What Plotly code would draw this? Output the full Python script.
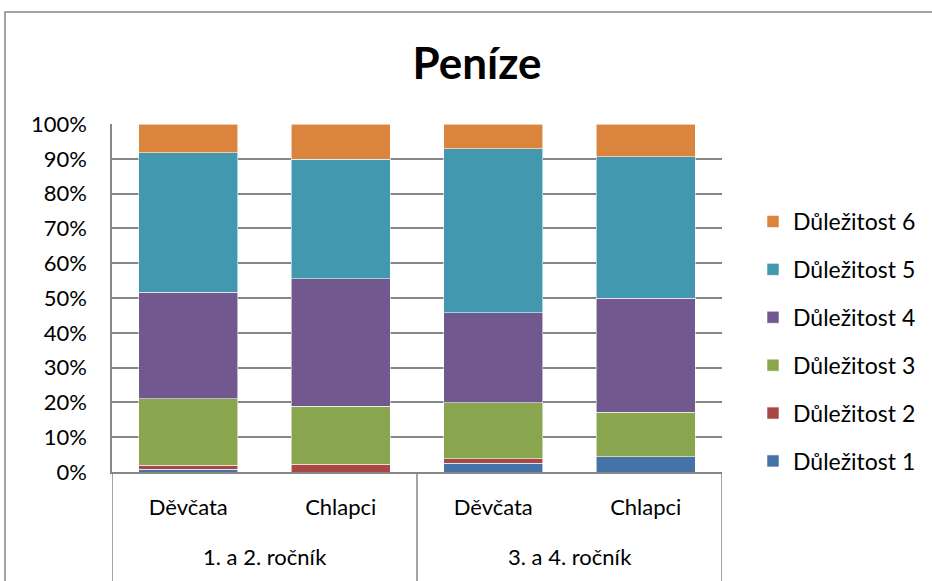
import plotly.graph_objects as go

groups = ["1. a 2. ročník", "3. a 4. ročník"]
categories = ["Děvčata", "Chlapci", "Děvčata", "Chlapci"]
series_names = ["Důležitost 1", "Důležitost 2", "Důležitost 3",
                "Důležitost 4", "Důležitost 5", "Důležitost 6"]
d1 = [0.8, 0.0, 2.5, 4.4]
d2 = [1.2, 2.2, 1.3, 0.0]
d3 = [19.1, 16.7, 16.1, 12.7]
d4 = [30.6, 36.7, 25.8, 32.8]
d5 = [40.0, 34.3, 47.2, 40.7]
d6 = [8.3, 10.1, 7.1, 9.4]
series_values = [d1, d2, d3, d4, d5, d6]
colors = ["#4572A7", "#AA4643", "#89A54E", "#71588F", "#4198AF", "#DB843D"]
ytick_vals = [0, 10, 20, 30, 40, 50, 60, 70, 80, 90, 100]
ytick_text = [f"{v}%" for v in ytick_vals]

FONT = "Lato, 'Open Sans', sans-serif"
xpos = list(range(len(categories)))

fig = go.Figure()
n = len(series_names)
for i, (name, vals, col) in enumerate(zip(series_names, series_values, colors)):
    fig.add_trace(go.Bar(
        x=xpos, y=vals, name=name, legendgroup=name, legendrank=n - i,
        marker=dict(color=col, line=dict(color="rgba(255,255,255,0.7)", width=0.8)),
    ))

L, R, T, B = 112, 210, 124, 109
W, H = 932, 581
pw, ph = W - L - R, H - T - B

fig.update_layout(
    width=W, height=H,
    barmode="stack", bargap=0.35,
    margin=dict(l=L, r=R, t=T, b=B, pad=0, autoexpand=False),
    paper_bgcolor="white", plot_bgcolor="white",
    font=dict(family=FONT, size=22, color="black"),
    title=dict(text="<b>Peníze</b>", font=dict(family=FONT, size=44, color="black"),
               xref="paper", x=(477 - L) / pw, xanchor="center",
               yref="container", y=1 - 64 / H, yanchor="middle"),
    legend=dict(traceorder="grouped", tracegroupgap=15,
                xref="container", x=753 / W, xanchor="left",
                y=(H - B - 200) / ph, yanchor="top",
                font=dict(family=FONT, size=23), itemwidth=30, bgcolor="rgba(0,0,0,0)"),
    showlegend=True,
)
fig.update_xaxes(
    range=[-0.5, len(categories) - 0.5], tickvals=xpos, ticktext=categories,
    showgrid=False, zeroline=False, showline=True, linecolor="#868686", linewidth=1.5,
    ticks="", ticklabelstandoff=15, tickfont=dict(family=FONT, size=22),
)
fig.update_yaxes(
    range=[0, 100], tickvals=ytick_vals, ticktext=ytick_text,
    showgrid=True, gridcolor="#868686", gridwidth=1.5, zeroline=False,
    showline=True, linecolor="#868686", linewidth=1.5,
    ticks="", ticklabelstandoff=19, tickfont=dict(family=FONT, size=22),
)

# outer chart-area frame
fig.add_shape(type="rect", xref="paper", yref="paper",
              x0=(5 - L) / pw, x1=(W + 60 - L) / pw,
              y0=(H - B - (H + 60)) / ph, y1=(H - B - 12) / ph,
              line=dict(color="#868686", width=1.5), fillcolor="rgba(0,0,0,0)", layer="below")

# category group dividers and labels
for xv in [-0.5, 1.5, 3.5]:
    fig.add_shape(type="line", xref="x", yref="paper", x0=xv, x1=xv,
                  y0=0, y1=-(B + 5) / ph, line=dict(color="#868686", width=1.5))
for i, g in enumerate(groups):
    fig.add_annotation(text=g, xref="x", yref="paper", x=2 * i + 0.5,
                       y=-(556 - (H - B)) / ph, yanchor="middle", showarrow=False,
                       font=dict(family=FONT, size=22, color="black"))

fig.write_html("out.html", config={"displayModeBar": False},
               post_script="document.body.style.margin='0';document.body.style.overflow='hidden';")
